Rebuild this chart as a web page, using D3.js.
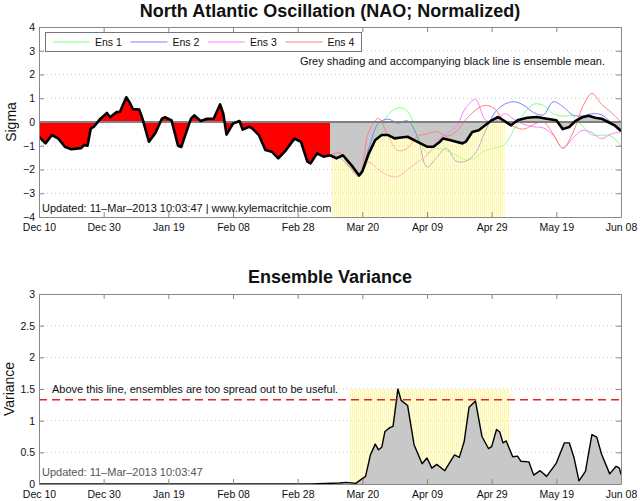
<!DOCTYPE html>
<html>
<head>
<meta charset="utf-8">
<script src="https://cdn.jsdelivr.net/npm/d3@7"></script>
<style>
  body { margin: 0; background: #fff; }
  text { font-family: "Liberation Sans", Arial, Helvetica, sans-serif; }
</style>
</head>
<body>
<svg id="chart" width="640" height="501"></svg>
<script>
// days counted from Dec 10 2012
const tickDays = [0, 20, 40, 60, 80, 100, 120, 140, 160, 180];
const tickLabels = ['Dec 10', 'Dec 30', 'Jan 19', 'Feb 08', 'Feb 28', 'Mar 20', 'Apr 09', 'Apr 29', 'May 19', 'Jun 08'];

// observed NAO
const obsDays = [0, 2, 4, 6, 8, 10, 13, 14, 15, 16, 17, 19, 21, 22, 24, 25, 27, 28, 29, 31, 32, 34, 36, 38, 39, 41, 43, 44, 47, 48, 50, 52, 54, 56, 57, 58, 60, 62, 63, 65, 66, 68, 70, 72, 74, 76, 79, 81, 83, 84, 86, 88, 90];
const obsNao = [-0.62, -0.9, -0.55, -0.7, -1.04, -1.15, -1.1, -0.97, -1.0, -0.28, -0.2, 0.14, 0.38, 0.2, 0.42, 0.42, 1.04, 0.83, 0.55, 0.52, 0.14, -0.83, -0.46, 0.14, 0.2, 0.07, -1.0, -1.05, 0.14, 0.28, 0.04, 0.14, 0.14, 0.74, 0.35, -0.53, -0.07, 0.04, -0.32, -0.2, -0.28, -0.55, -1.18, -1.25, -1.53, -1.25, -0.7, -0.83, -1.67, -1.74, -1.32, -1.46, -1.4];

// ensemble mean
const meanDays = [90, 92, 94, 97, 99, 100, 102, 104, 106, 108, 110, 112, 114, 116, 118, 120, 122, 124, 125, 127, 129, 131, 132, 134, 136, 138, 140, 142, 144, 146, 148, 151, 154, 157, 160, 162, 164, 166, 168, 170, 172, 174, 176, 178, 180];
const meanNao = [-1.4, -1.53, -1.4, -1.88, -2.25, -2.08, -1.32, -0.76, -0.55, -0.55, -0.69, -0.65, -0.62, -0.76, -0.9, -1.04, -1.04, -0.83, -0.69, -0.76, -0.83, -0.9, -0.83, -0.42, -0.35, -0.14, 0.07, 0.21, 0.04, -0.14, 0.07, 0.18, 0.21, 0.14, 0.07, -0.3, -0.21, 0.05, 0.2, 0.26, 0.18, 0.14, 0.0, -0.14, -0.38];

// ensemble members
const ensDays = [90, 93, 96, 99, 102, 105, 108, 111, 114, 117, 120, 123, 126, 129, 132, 135, 138, 141, 144, 147, 150, 153, 156, 159, 162, 165, 168, 171, 174, 177, 180];
const ens1 = [-1.4, -1.3, -1.83, -2.3, -1.5, -0.35, 0.3, 0.6, 0.45, -0.5, -1.3, -1.1, -1.2, -1.4, -1.6, -1.5, -1.2, -1.1, -0.95, -0.3, 0.35, 0.75, 0.7, 0.35, 0.25, 0.25, -0.15, -0.55, -0.55, -0.6, -1.0];
const ens2 = [-1.4, -1.5, -1.9, -2.3, -1.1, -0.05, 0.12, -0.05, 0.05, -0.6, -1.9, -1.5, -1.1, -1.65, -1.65, -1.3, -0.4, 0.4, 0.75, 0.85, 0.7, 0.4, 0.3, 0.85, 0.65, 0.3, 0.25, 0.35, 0.3, -0.02, -0.3];
const ens3 = [-1.4, -1.3, -1.8, -2.3, -1.7, -2.0, -2.25, -2.3, -2.0, -1.7, -1.4, -0.8, -0.5, -0.2, 0.6, 0.95, 0.1, 0.0, 0.35, 0.1, -0.1, -0.2, -0.25, -0.55, -1.1, -0.7, -0.35, -0.45, -0.7, -0.5, -0.42];
const ens4 = [-1.4, -1.3, -1.9, -2.2, -0.4, 0.15, -0.6, -1.2, -1.1, -0.6, -0.5, -0.4, -0.6, -0.4, 0.1, 0.5, 0.7, 0.55, 0.0, -0.2, -0.3, -0.1, 0.0, -0.5, -1.1, -0.5, 0.6, 1.2, 0.75, 0.4, 0.0];
const ensNames = ['Ens 1', 'Ens 2', 'Ens 3', 'Ens 4'];
const ensColors = ['#80ff80', '#8080ff', '#ff80ff', '#ff8080'];

// ensemble variance
const varDays = [0, 84, 93, 95, 98, 99, 101, 102.5, 104, 105, 106, 107, 108.5, 109.5, 111, 112, 114, 116, 118.5, 120, 121.5, 123, 125.5, 128.5, 130, 131.5, 133, 135, 137, 139, 140, 141.5, 142.5, 143.5, 144.5, 146.5, 148, 149, 151.5, 153, 155, 157, 160, 162.5, 164, 165.5, 167, 169, 171, 172.5, 174, 176.5, 178.5, 179.5, 180];
const variance = [0, 0, 0.016, 0.026, 0.01, 0.05, 0.12, 0.46, 0.63, 0.54, 0.58, 0.83, 0.89, 0.91, 1.5, 1.32, 1.24, 0.62, 0.32, 0.41, 0.25, 0.31, 0.21, 0.46, 0.42, 0.67, 1.21, 1.31, 0.75, 0.56, 0.59, 0.86, 0.82, 0.65, 0.68, 0.43, 0.44, 0.36, 0.35, 0.14, 0.21, 0.12, 0.33, 0.65, 0.65, 0.41, 0.05, 0.2, 0.78, 0.74, 0.47, 0.16, 0.28, 0.25, 0.15];
const spreadLimit = 1.33;

// yellow "useful forecast" windows
const shadeTopDays = [90.5, 144];
const shadeBotDays = [96, 145.5];
const shadeBotMax = 1.5;

const svg = d3.select('#chart');
const t0 = Date.UTC(2012, 11, 10);
const toDate = (d) => new Date(t0 + d * 864e5);
const pts = (days, vals) => days.map((d, i) => ({ d, v: vals[i] }));

const x = d3.scaleUtc().domain([toDate(0), toDate(180)]).range([39, 621]);
const yTop = d3.scaleLinear().domain([-4, 4]).range([217, 27]);
const yBot = d3.scaleLinear().domain([0, 3]).range([484, 294]);

const defs = svg.append('defs');
const pat = defs.append('pattern')
  .attr('id', 'stipple')
  .attr('width', 2).attr('height', 2)
  .attr('patternUnits', 'userSpaceOnUse');
pat.append('rect').attr('width', 1).attr('height', 2).attr('fill', 'rgba(255,240,90,0.55)');
pat.append('rect').attr('x', 1).attr('width', 1).attr('height', 2).attr('fill', 'rgba(255,255,200,0.3)');

const clipRect = (id, y) =>
  defs.append('clipPath').attr('id', id).append('rect')
    .attr('x', x.range()[0]).attr('y', y.range()[1])
    .attr('width', x.range()[1] - x.range()[0])
    .attr('height', y.range()[0] - y.range()[1]);
clipRect('clipTop', yTop);
clipRect('clipBot', yBot);

const grid = (g, y, vals) => {
  g.selectAll('line.grid')
    .data(vals)
    .join('line')
    .attr('class', 'grid')
    .attr('x1', x.range()[0]).attr('x2', x.range()[1])
    .attr('y1', (d) => y(d)).attr('y2', (d) => y(d))
    .attr('stroke', '#c8c8c8')
    .attr('stroke-dasharray', '1,3');
};

const frame = (y, yTicks, fmt) => {
  const g = svg.append('g');
  const style = (sel) => {
    sel.selectAll('.domain').attr('stroke', '#888');
    sel.selectAll('.tick line').attr('stroke', '#888');
    sel.selectAll('.tick text')
      .attr('fill', '#111')
      .style('font-size', '10.5px')
      .style('font-family', '"Liberation Sans", Arial, sans-serif');
  };
  const xd = tickDays.map(toDate);
  g.append('g')
    .attr('transform', `translate(0,${y.range()[0]})`)
    .call(d3.axisBottom(x).tickValues(xd).tickFormat((d, i) => tickLabels[i]).tickSizeInner(-5).tickSizeOuter(0).tickPadding(7))
    .call(style);
  g.append('g')
    .attr('transform', `translate(0,${y.range()[1]})`)
    .call(d3.axisTop(x).tickValues(xd).tickFormat('').tickSizeInner(-5).tickSizeOuter(0))
    .call(style);
  g.append('g')
    .attr('transform', `translate(${x.range()[0]},0)`)
    .call(d3.axisLeft(y).tickValues(yTicks).tickFormat(fmt).tickSizeInner(-5).tickSizeOuter(0).tickPadding(4))
    .call(style);
  g.append('g')
    .attr('transform', `translate(${x.range()[1]},0)`)
    .call(d3.axisRight(y).tickValues(yTicks).tickFormat('').tickSizeInner(-5).tickSizeOuter(0))
    .call(style);
  return g;
};

const xd = (p) => x(toDate(p.d));

// ---------- top panel: NAO ----------
const obs = pts(obsDays, obsNao);
const mean = pts(meanDays, meanNao);
const plotTop = svg.append('g').attr('clip-path', 'url(#clipTop)');
grid(plotTop, yTop, [-3, -2, -1, 1, 2, 3]);

plotTop.append('path')
  .datum(obs)
  .attr('d', d3.area().x(xd).y0(yTop(0)).y1((p) => yTop(p.v)))
  .attr('fill', '#ff0000');

plotTop.append('path')
  .datum(mean)
  .attr('d', d3.area().x(xd).y0(yTop(0)).y1((p) => yTop(p.v)))
  .attr('fill', '#c8c8c8');

[ens1, ens2, ens3, ens4].forEach((vals, i) => {
  plotTop.append('path')
    .datum(pts(ensDays, vals))
    .attr('d', d3.line().x(xd).y((p) => yTop(p.v)).curve(d3.curveCatmullRom))
    .attr('fill', 'none')
    .attr('stroke', ensColors[i])
    .attr('stroke-width', 1);
});

// yellow stipple below the mean / zero line
defs.append('clipPath').attr('id', 'clipShadeTop').append('rect')
  .attr('x', x(toDate(shadeTopDays[0])))
  .attr('y', yTop(4))
  .attr('width', x(toDate(shadeTopDays[1])) - x(toDate(shadeTopDays[0])))
  .attr('height', yTop(-4) - yTop(4));
plotTop.append('g')
  .attr('clip-path', 'url(#clipShadeTop)')
  .append('path')
  .datum(mean)
  .attr('d', d3.area().x(xd).y0(yTop(-4)).y1((p) => yTop(Math.min(0, p.v))))
  .attr('fill', 'url(#stipple)');

plotTop.append('line')
  .attr('x1', x.range()[0]).attr('x2', x.range()[1])
  .attr('y1', yTop(0)).attr('y2', yTop(0))
  .attr('stroke', '#808080')
  .attr('stroke-width', 2);

[obs, mean].forEach((series) => {
  plotTop.append('path')
    .datum(series)
    .attr('d', d3.line().x(xd).y((p) => yTop(p.v)))
    .attr('fill', 'none')
    .attr('stroke', '#000')
    .attr('stroke-width', 2.6)
    .attr('stroke-linejoin', 'round');
});

frame(yTop, [-4, -3, -2, -1, 0, 1, 2, 3, 4], d3.format('d'));

svg.append('text')
  .attr('x', 330).attr('y', 17)
  .attr('text-anchor', 'middle')
  .style('font-size', '18px')
  .style('font-weight', 'bold')
  .attr('fill', '#111')
  .text('North Atlantic Oscillation (NAO; Normalized)');

svg.append('text')
  .attr('transform', 'translate(16,122) rotate(-90)')
  .attr('text-anchor', 'middle')
  .style('font-size', '14px')
  .attr('fill', '#111')
  .text('Sigma');

const legend = svg.append('g');
legend.append('rect')
  .attr('x', 45.5).attr('y', 32.5)
  .attr('width', 316).attr('height', 19)
  .attr('fill', '#fff')
  .attr('stroke', '#777');
ensNames.forEach((name, i) => {
  const lx = 53 + i * 77.5;
  legend.append('line')
    .attr('x1', lx).attr('x2', lx + 37)
    .attr('y1', 42).attr('y2', 42)
    .attr('stroke', ensColors[i]);
  legend.append('text')
    .attr('x', lx + 42).attr('y', 46)
    .style('font-size', '10.5px')
    .attr('fill', '#111')
    .text(name);
});

svg.append('text')
  .attr('x', 605).attr('y', 65)
  .attr('text-anchor', 'end')
  .style('font-size', '11px')
  .attr('fill', '#111')
  .text('Grey shading and accompanying black line is ensemble mean.');

svg.append('text')
  .attr('x', 42).attr('y', 212)
  .style('font-size', '11px')
  .attr('fill', '#111')
  .text('Updated: 11\u2013Mar\u20132013 10:03:47 | www.kylemacritchie.com');

// ---------- bottom panel: variance ----------
const vars = pts(varDays, variance);
const plotBot = svg.append('g').attr('clip-path', 'url(#clipBot)');
grid(plotBot, yBot, [0.5, 1, 1.5, 2, 2.5]);

plotBot.append('rect')
  .attr('x', x(toDate(shadeBotDays[0])))
  .attr('y', yBot(shadeBotMax))
  .attr('width', x(toDate(shadeBotDays[1])) - x(toDate(shadeBotDays[0])))
  .attr('height', yBot(0) - yBot(shadeBotMax))
  .attr('fill', 'url(#stipple)');

plotBot.append('path')
  .datum(vars)
  .attr('d', d3.area().x(xd).y0(yBot(0)).y1((p) => yBot(p.v)))
  .attr('fill', '#c8c8c8');

plotBot.append('path')
  .datum(vars)
  .attr('d', d3.line().x(xd).y((p) => yBot(p.v)))
  .attr('fill', 'none')
  .attr('stroke', '#000')
  .attr('stroke-width', 1.4)
  .attr('stroke-linejoin', 'round');

plotBot.append('line')
  .attr('x1', x.range()[0]).attr('x2', x.range()[1])
  .attr('y1', yBot(spreadLimit)).attr('y2', yBot(spreadLimit))
  .attr('stroke', '#ee2020')
  .attr('stroke-width', 1.3)
  .attr('stroke-dasharray', '8,5');

frame(yBot, [0, 0.5, 1, 1.5, 2, 2.5, 3], d3.format('~g'));

svg.append('text')
  .attr('x', 330).attr('y', 283)
  .attr('text-anchor', 'middle')
  .style('font-size', '18px')
  .style('font-weight', 'bold')
  .attr('fill', '#111')
  .text('Ensemble Variance');

svg.append('text')
  .attr('transform', 'translate(14,389) rotate(-90)')
  .attr('text-anchor', 'middle')
  .style('font-size', '14px')
  .attr('fill', '#111')
  .text('Variance');

svg.append('text')
  .attr('x', 52).attr('y', 393)
  .style('font-size', '11px')
  .attr('fill', '#111')
  .text('Above this line, ensembles are too spread out to be useful.');

svg.append('text')
  .attr('x', 42).attr('y', 476)
  .style('font-size', '11px')
  .attr('fill', '#555')
  .text('Updated: 11\u2013Mar\u20132013 10:03:47');
</script>
</body>
</html>
